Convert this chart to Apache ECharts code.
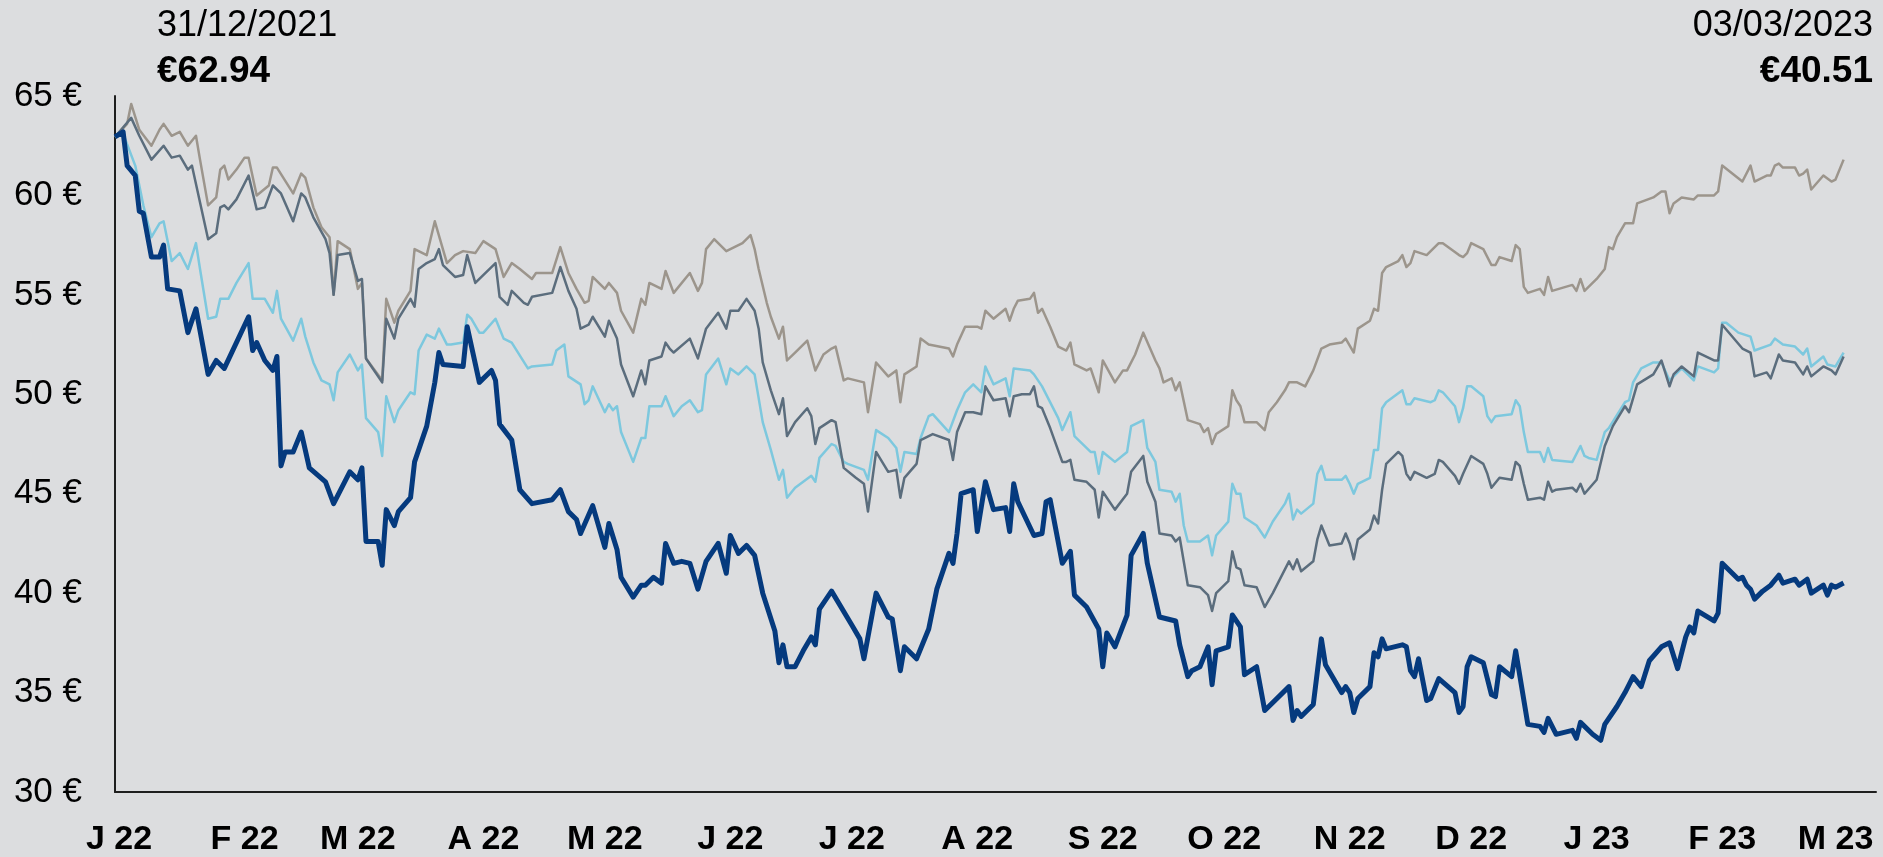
<!DOCTYPE html>
<html>
<head>
<meta charset="utf-8">
<script src="https://cdn.jsdelivr.net/npm/echarts@6/dist/echarts.min.js"></script>
<style>
  html, body { margin: 0; padding: 0; background: #dcdddf; }
  #chart { width: 1883px; height: 857px; }
</style>
</head>
<body>
<div id="chart"></div>
<script>
// --- data: days counted from 31/12/2021, prices in € ---
const navyDays = [0,2,3,5,6,7,9,11,12,13,16,18,20,23,25,27,33,34,35,37,39,40,41,42,44,46,48,52,54,58,60,61,62,65,66,67,69,70,73,74,77,79,80,81,86,87,90,93,94,95,98,100,103,108,110,112,114,115,118,121,122,124,125,128,130,131,133,135,136,138,140,142,144,146,149,151,152,154,156,158,160,163,164,165,166,168,170,172,173,174,177,182,184,185,188,191,192,194,195,198,201,203,206,207,208,209,212,213,215,217,220,221,222,223,227,229,230,231,234,236,237,240,243,244,245,247,250,251,254,255,258,262,263,265,266,268,270,271,272,275,276,278,279,282,284,290,291,292,293,296,298,299,303,304,305,306,307,310,311,312,313,314,318,319,320,321,322,324,325,327,331,332,333,334,335,338,340,341,342,345,346,349,352,353,354,356,360,361,362,365,367,368,371,373,375,377,379,382,384,386,388,389,390,391,395,396,397,399,401,402,403,404,405,407,409,411,412,415,416,418,419,422,423,424,425,427]
const navyPrices = [62.94,63.2,61.5,61.0,59.2,59.1,56.9,56.9,57.5,55.3,55.2,53.1,54.3,51.0,51.7,51.3,53.9,52.2,52.6,51.7,51.2,51.9,46.4,47.1,47.1,48.1,46.3,45.6,44.5,46.1,45.7,46.3,42.6,42.6,41.4,44.2,43.4,44.1,44.8,46.6,48.4,50.6,52.1,51.5,51.4,53.4,50.6,51.2,50.7,48.5,47.7,45.2,44.5,44.7,45.2,44.1,43.7,43.0,44.4,42.3,43.5,42.2,40.8,39.8,40.4,40.4,40.8,40.5,42.5,41.5,41.6,41.5,40.2,41.6,42.5,41.0,42.9,42.0,42.4,41.9,40.0,38.1,36.5,37.4,36.3,36.3,37.1,37.8,37.4,39.2,40.1,38.4,37.7,36.7,40.0,38.8,38.7,36.1,37.3,36.7,38.2,40.2,42.0,41.5,43.0,45.0,45.2,43.1,45.6,44.2,44.3,43.1,45.5,44.6,42.9,43.0,44.6,44.7,41.5,42.1,39.9,39.3,38.2,36.3,38.0,37.3,38.9,41.9,43.0,41.5,38.8,38.6,37.4,35.8,36.1,36.3,37.3,35.4,37.1,37.3,38.9,38.3,35.9,36.3,34.1,35.3,33.6,34.1,33.8,34.4,37.7,36.4,35.0,35.3,35.0,34.0,34.7,35.3,37.0,36.8,37.7,37.2,37.4,37.3,36.1,35.8,36.7,34.6,34.7,35.7,35.0,34.0,34.3,36.3,36.8,36.5,34.9,34.8,36.3,35.8,37.1,33.4,33.3,33.0,33.7,32.9,33.1,32.7,33.5,32.9,32.6,33.4,34.3,35.0,35.8,35.3,36.6,37.3,37.5,36.2,37.8,38.3,38.0,39.1,38.6,39.0,41.5,41.1,40.7,40.8,40.4,40.2,39.7,40.1,40.4,40.9,40.5,40.7,40.4,40.7,40.0,40.4,39.9,40.4,40.3,40.51]

const grayDays = [0,3,4,6,9,11,12,14,16,18,20,21,23,25,26,27,28,30,32,33,35,38,39,40,44,46,47,49,51,53,54,55,58,60,61,62,66,67,69,70,73,74,75,77,79,82,84,86,89,91,94,96,98,100,103,104,108,110,112,114,116,117,118,121,122,124,125,128,130,131,132,135,136,138,142,144,145,146,148,151,153,155,157,158,159,161,162,164,165,166,168,169,171,173,175,177,178,180,181,185,186,188,191,193,194,195,198,199,201,206,207,208,210,213,214,215,217,220,221,222,223,226,227,228,229,231,233,235,236,237,240,241,243,244,247,249,250,252,254,257,258,259,261,262,263,265,268,269,270,271,272,275,276,277,278,279,282,284,285,287,289,290,292,294,296,298,300,303,304,306,307,310,311,312,313,314,317,318,319,320,321,324,325,327,328,332,333,334,335,338,340,341,342,345,346,347,348,349,352,353,354,355,360,361,362,363,366,368,369,370,371,373,375,376,380,382,383,384,385,387,390,391,395,396,397,402,404,405,408,409,410,411,412,415,416,417,418,419,422,424,425,427]
const grayPrices = [62.94,63.6,64.6,63.3,62.5,63.3,63.6,63.0,63.2,62.5,63.0,61.8,59.5,59.9,61.3,61.5,60.8,61.3,61.9,61.9,60.0,60.5,61.4,61.4,60.1,61.1,60.9,59.4,58.4,57.9,55.0,57.7,57.3,55.3,55.6,51.8,50.7,54.8,53.6,54.2,55.2,57.3,57.2,57.0,58.7,56.6,57.0,57.2,57.1,57.7,57.3,55.9,56.6,56.3,55.8,56.1,56.1,57.4,56.1,55.3,54.6,54.7,55.9,55.3,55.6,55.1,54.2,53.1,54.8,54.5,55.6,55.3,56.2,55.1,56.1,55.2,55.6,57.3,57.8,57.2,57.4,57.6,58.0,57.3,56.3,54.6,53.9,52.8,53.4,51.7,52.1,52.3,52.7,51.2,52.0,52.3,52.4,50.7,50.8,50.6,49.1,51.6,50.9,51.2,49.6,51.0,51.4,52.8,52.5,52.3,51.9,52.5,53.4,53.4,53.3,54.2,53.8,54.3,53.7,54.3,54.7,54.8,55.1,54.1,54.3,53.4,52.4,52.2,52.6,51.5,51.2,51.3,50.1,51.7,50.6,51.2,51.2,52.0,53.1,51.7,51.3,50.6,50.8,50.2,50.6,48.7,48.5,48.1,48.3,47.5,48.0,48.4,50.2,49.7,49.4,48.6,48.6,48.2,49.1,49.6,50.2,50.6,50.6,50.4,51.2,52.3,52.5,52.6,52.8,52.1,53.3,53.7,54.3,54.2,56.1,56.4,56.7,57.0,56.4,56.6,57.2,57.0,57.2,57.6,57.6,57.0,56.9,57.1,57.6,57.3,56.5,56.5,56.9,56.7,57.5,57.3,55.4,55.1,55.3,55.0,55.9,55.2,55.5,55.2,55.8,55.2,55.8,56.3,57.4,57.3,57.9,58.6,58.6,59.6,59.9,60.2,60.2,59.1,59.6,59.9,59.8,60.0,60.0,60.2,61.5,60.7,61.5,60.7,61.0,61.0,61.5,61.6,61.4,61.4,61.0,61.1,61.3,60.3,61.0,60.7,60.8,61.8]

const slateDays = [0,4,6,9,12,14,16,18,19,23,25,26,27,28,30,33,35,37,39,41,44,46,47,49,52,53,54,55,58,60,61,62,66,67,69,70,73,74,75,77,79,80,81,84,86,87,89,94,95,97,98,101,102,103,108,110,112,114,115,117,118,121,122,124,125,128,130,131,132,135,136,137,138,142,144,146,149,151,152,154,156,158,159,160,162,164,165,166,168,171,172,173,174,177,178,180,183,185,186,188,191,193,194,195,198,199,202,206,207,208,210,212,214,215,217,220,221,222,224,226,227,228,229,231,234,235,236,237,240,242,243,244,247,250,251,254,255,257,258,261,262,263,265,268,270,271,272,275,276,277,278,279,282,284,286,290,291,292,293,296,297,298,300,303,304,305,306,307,310,311,312,313,314,317,318,319,320,321,324,326,327,328,331,332,333,335,338,339,340,342,345,346,347,348,349,352,353,354,355,356,360,361,362,363,366,368,370,373,374,376,380,382,384,385,387,390,391,395,396,397,402,404,405,408,409,411,412,415,417,418,419,422,424,425,427]
const slatePrices = [62.94,63.9,63.0,61.8,62.5,61.9,62.0,61.3,61.5,57.8,58.1,59.4,59.5,59.3,59.8,61.0,59.3,59.4,60.5,60.1,58.7,60.1,59.9,58.9,57.8,57.1,55.0,57.0,57.1,55.7,55.8,51.8,50.6,53.8,52.8,53.8,54.8,54.4,56.3,56.6,56.8,57.3,56.5,55.9,56.0,57.0,55.6,56.6,54.9,54.5,55.2,54.6,54.5,54.9,55.1,56.4,55.2,54.3,53.3,53.5,53.9,52.9,53.7,52.8,51.5,49.9,51.2,50.5,51.7,51.9,52.6,52.3,52.1,52.8,51.8,53.3,54.1,53.3,54.2,54.2,54.8,54.2,53.3,51.6,50.2,49.0,49.8,47.9,48.6,49.3,48.9,47.5,48.3,48.7,48.6,46.3,45.8,45.5,44.1,47.1,46.1,46.2,44.8,45.8,46.5,47.7,48.0,47.7,46.7,48.1,49.1,49.1,49.0,50.4,49.7,49.8,48.9,49.9,50.0,50.0,50.4,49.4,49.3,48.3,46.6,46.6,46.7,45.7,45.6,45.2,43.8,45.1,44.2,45.0,46.1,46.9,45.6,44.6,43.0,42.9,42.6,42.8,40.4,40.3,39.9,39.1,40.0,40.6,42.1,41.3,41.2,40.4,40.3,39.3,40.0,41.6,41.2,41.7,41.1,41.6,42.7,43.4,42.4,42.5,43.0,42.5,41.7,42.7,43.2,43.9,43.5,45.2,46.5,47.1,46.9,46.0,45.7,46.1,45.8,46.0,46.7,46.6,45.9,45.5,46.0,46.9,46.5,46.0,45.3,45.8,45.7,46.6,46.4,45.5,44.7,44.8,44.7,45.6,45.1,45.2,45.3,45.1,45.5,45.0,45.7,47.4,48.4,49.4,49.1,50.5,51.0,51.7,50.4,51.0,51.4,50.9,52.1,51.7,51.7,53.5,52.3,52.1,50.9,51.1,50.8,52.0,51.7,51.6,51.0,51.4,50.9,51.4,51.2,51.0,51.9]

const skyDays = [0,2,5,7,9,11,12,14,16,18,20,21,23,25,26,28,30,33,34,37,39,40,41,44,46,47,49,51,53,54,55,58,60,61,62,65,66,67,69,70,73,74,75,77,79,80,82,83,86,87,88,90,91,94,96,98,102,103,108,109,111,112,115,116,117,118,121,122,123,124,125,128,130,131,132,135,136,138,140,142,144,145,146,149,151,152,154,156,158,160,162,164,165,166,168,170,172,173,174,177,178,180,181,185,186,188,191,193,194,195,198,199,201,202,206,208,210,212,214,215,217,220,221,222,226,227,229,233,234,236,237,241,242,243,244,247,250,251,254,255,257,258,261,262,263,264,265,268,270,271,272,275,276,277,278,279,282,284,286,289,290,291,292,293,296,297,298,299,303,304,305,306,307,310,311,312,313,314,318,319,320,321,325,326,327,328,331,332,333,334,335,338,339,340,341,345,346,347,348,349,352,353,354,355,360,362,363,364,366,368,369,373,374,375,377,380,382,384,387,390,391,395,396,397,398,401,404,405,409,410,412,415,417,418,419,422,423,425,427]
const skyPrices = [62.94,63.1,61.5,59.5,57.9,58.6,58.7,56.7,57.1,56.3,57.6,56.3,53.8,53.9,54.8,54.8,55.6,56.6,54.8,54.8,54.1,55.2,53.8,52.7,53.8,52.9,51.6,50.7,50.5,49.7,51.1,52.0,51.2,51.5,48.8,48.1,46.9,49.9,48.6,49.2,50.1,50.0,52.2,53.0,52.8,53.3,52.5,52.5,52.6,54.0,53.8,53.1,53.1,53.8,52.8,52.6,51.3,51.4,51.5,52.2,52.5,50.9,50.5,49.5,49.7,50.4,49.1,49.5,49.2,49.4,48.1,46.6,47.8,47.8,49.4,49.4,49.9,48.9,49.4,49.7,49.1,49.2,51.0,51.8,50.5,51.3,51.0,51.4,51.0,48.6,47.2,45.7,46.2,44.8,45.3,45.6,45.9,45.6,46.8,47.5,47.4,46.6,46.5,46.2,45.7,48.2,47.8,47.3,46.1,47.1,47.0,47.8,48.9,49.0,48.1,49.2,50.1,50.5,50.1,51.4,50.5,50.8,49.9,51.3,51.2,51.0,50.4,48.8,48.2,49.1,47.9,47.1,47.1,46.0,47.1,46.6,47.1,48.4,48.7,47.3,46.6,45.2,45.1,44.6,45.0,43.4,42.6,42.6,42.9,41.9,42.9,43.6,45.5,45.0,45.0,43.8,43.4,42.8,43.6,44.5,45.0,43.7,44.2,44.0,44.5,46.0,46.4,45.7,45.7,45.9,45.5,45.0,45.5,45.8,47.2,47.2,49.3,49.6,50.2,49.5,49.5,49.8,49.6,49.7,50.2,50.1,49.4,48.6,49.3,50.4,50.4,49.9,48.9,48.6,48.9,49.0,49.7,49.4,48.1,47.1,47.1,46.6,47.3,46.7,46.6,47.4,46.9,46.8,46.7,48.1,48.3,49.6,49.7,50.6,51.3,51.6,51.6,50.7,51.3,50.7,51.4,51.1,51.3,53.6,53.6,53.1,52.9,52.2,52.5,52.8,52.5,52.4,52.0,52.3,51.4,51.9,51.5,51.4,52.1]

// month ticks along the bottom
const monthStarts = ['2022-01-01','2022-02-01','2022-03-01','2022-04-01','2022-05-01','2022-06-01','2022-07-01','2022-08-01','2022-09-01','2022-10-01','2022-11-01','2022-12-01','2023-01-01','2023-02-01','2023-03-01']
const monthLabels = ['J 22','F 22','M 22','A 22','M 22','J 22','J 22','A 22','S 22','O 22','N 22','D 22','J 23','F 23','M 23']
const yTicks = [30, 35, 40, 45, 50, 55, 60, 65]

const startText = {date: '31/12/2021', price: '€62.94'}
const endText = {date: '03/03/2023', price: '€40.51'}

const FONT = "'Liberation Sans', Arial, sans-serif"
const DAY = 86400000
const origin = Date.UTC(2021, 11, 31)

// date string -> days since 31/12/2021
const dayOf = s => {
  const [y, m, d] = s.split('-').map(Number)
  return Math.round((Date.UTC(y, m - 1, d) - origin) / DAY)
}
const toSeries = (days, prices) => days.map((d, i) => [d, prices[i]])

const tickDays = monthStarts.map(dayOf)
const labelByDay = {}
tickDays.forEach((d, i) => { labelByDay[d] = monthLabels[i] })

const chart = echarts.init(document.getElementById('chart'))

const lineSeries = (name, days, prices, color, width, z) => ({
  name,
  type: 'line',
  data: toSeries(days, prices),
  showSymbol: false,
  symbol: 'none',
  z,
  lineStyle: {color, width, join: 'round'},
  emphasis: {disabled: true}
})

chart.setOption({
  animation: false,
  backgroundColor: '#dcdddf',
  grid: {left: 115, right: 7, top: 96, bottom: 64},
  xAxis: {
    type: 'value',
    min: 0,
    max: 435,
    axisLine: {show: true, lineStyle: {color: '#1e1e1e', width: 2}},
    axisTick: {show: false},
    splitLine: {show: false},
    axisLabel: {
      customValues: tickDays,
      formatter: v => labelByDay[v] || '',
      margin: 31,
      color: '#000',
      fontFamily: FONT,
      fontWeight: 'bold',
      fontSize: 34
    }
  },
  yAxis: {
    type: 'value',
    min: yTicks[0],
    max: yTicks[yTicks.length - 1],
    interval: 5,
    axisLine: {show: true, lineStyle: {color: '#1e1e1e', width: 2}},
    axisTick: {show: false},
    splitLine: {show: false},
    axisLabel: {
      formatter: '{value} €',
      margin: 33,
      color: '#000',
      fontFamily: FONT,
      fontSize: 35
    }
  },
  graphic: [
    {type: 'text', left: 157, top: 8, style: {text: startText.date, font: `36px ${FONT}`, fill: '#000'}},
    {type: 'text', left: 157, top: 53, style: {text: startText.price, font: `bold 37px ${FONT}`, fill: '#000'}},
    {type: 'text', right: 10, top: 8, style: {text: endText.date, font: `36px ${FONT}`, fill: '#000'}},
    {type: 'text', right: 10, top: 53, style: {text: endText.price, font: `bold 37px ${FONT}`, fill: '#000'}}
  ],
  series: [
    lineSeries('Peer A', grayDays, grayPrices, '#9c958c', 2.5, 2),
    lineSeries('Peer B', skyDays, skyPrices, '#7dc8de', 2.5, 3),
    lineSeries('Peer C', slateDays, slatePrices, '#5b6d7d', 2.5, 4),
    lineSeries('Share', navyDays, navyPrices, '#053a7e', 5, 5)
  ]
})

window.addEventListener('resize', () => chart.resize())
</script>
</body>
</html>
